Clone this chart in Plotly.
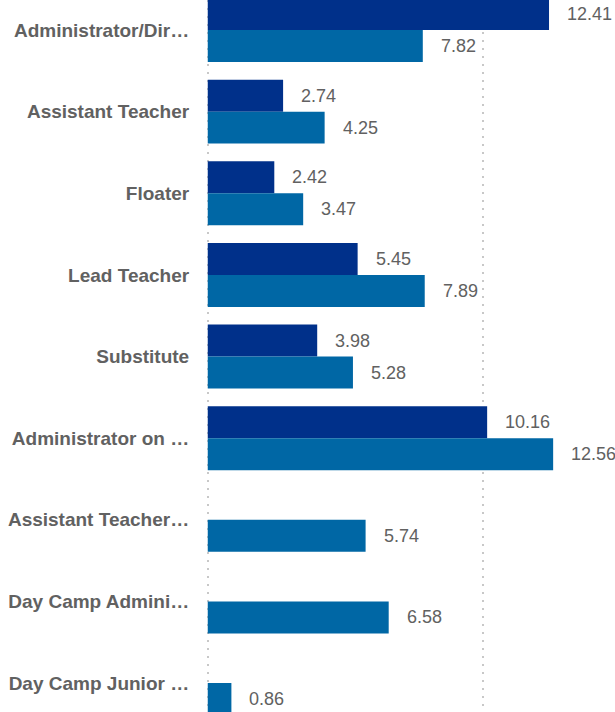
import plotly.graph_objects as go

categories = [
    "Administrator/Dir…",
    "Assistant Teacher",
    "Floater",
    "Lead Teacher",
    "Substitute",
    "Administrator on …",
    "Assistant Teacher…",
    "Day Camp Admini…",
    "Day Camp Junior …",
]
series_a = [12.41, 2.74, 2.42, 5.45, 3.98, 10.16, None, None, None]
series_b = [7.82, 4.25, 3.47, 7.89, 5.28, 12.56, 5.74, 6.58, 0.86]

color_a = "#00308A"
color_b = "#0067A5"
text_color = "#616161"
font_family = "Liberation Sans, Arial, sans-serif"

fig = go.Figure()
fig.add_trace(go.Bar(y=categories, x=series_a, orientation="h", name="Series A",
                     marker=dict(color=color_a, line=dict(width=0)), hoverinfo="x+y"))
fig.add_trace(go.Bar(y=categories, x=series_b, orientation="h", name="Series B",
                     marker=dict(color=color_b, line=dict(width=0)), hoverinfo="x+y"))

annotations = []
for cat, va, vb in zip(categories, series_a, series_b):
    for v, ys in ((va, 16), (vb, -16)):
        if v is None:
            continue
        annotations.append(dict(
            x=v, y=cat, xref="x", yref="y", text=f"{v:.2f}", showarrow=False,
            xanchor="left", yanchor="middle", xshift=16, yshift=ys,
            font=dict(family=font_family, size=18, color=text_color),
        ))

fig.update_layout(
    width=615, height=712,
    margin=dict(l=205, r=0, t=0, b=0, pad=0),
    paper_bgcolor="white", plot_bgcolor="white",
    barmode="group", bargap=0.216, bargroupgap=0,
    showlegend=False,
    annotations=annotations,
    font=dict(family=font_family, color=text_color),
)
fig.update_xaxes(
    range=[-0.1, 14.809], tickvals=[0, 10], showticklabels=False,
    showgrid=True, gridcolor="#c8c8c8", gridwidth=2, griddash="2px,6px",
    zeroline=False, showline=False, ticks="",
)
fig.update_yaxes(
    type="category", range=[8.355, -0.3675],
    showgrid=False, zeroline=False, showline=False,
    ticks="outside", ticklen=11, tickcolor="rgba(0,0,0,0)",
    tickfont=dict(family=font_family, size=19, color=text_color, weight="bold"),
)

fig.write_html(
    "out.html",
    config={"displayModeBar": False},
    post_script="document.body.style.margin='0';document.body.style.overflow='hidden';",
)
